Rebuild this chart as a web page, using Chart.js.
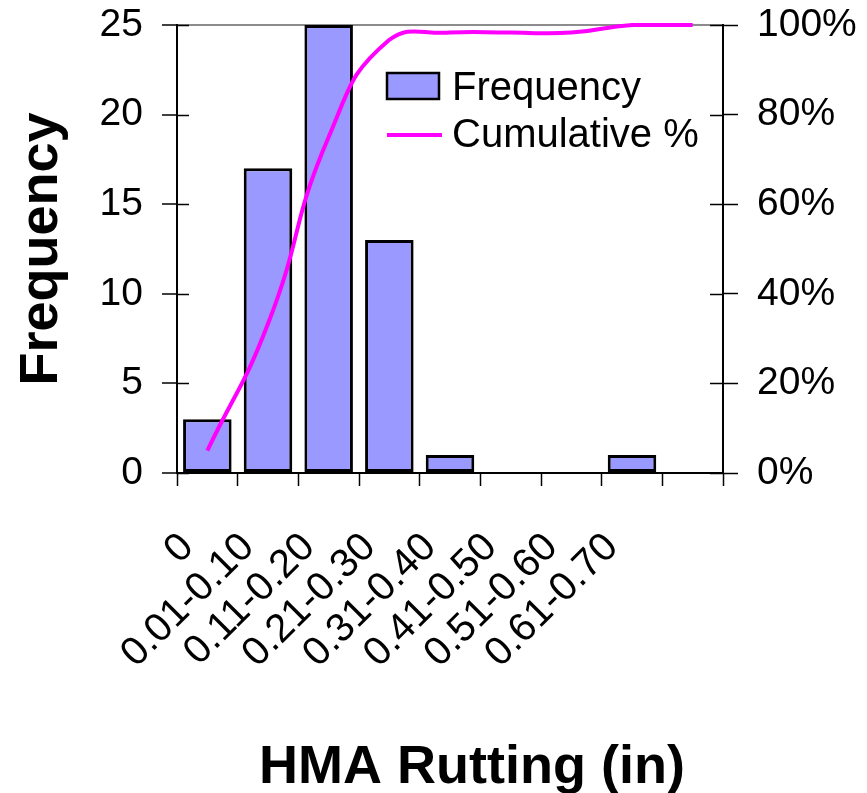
<!DOCTYPE html>
<html>
<head>
<meta charset="utf-8">
<title>HMA Rutting histogram</title>
<script src="https://cdn.jsdelivr.net/npm/chart.js@4.4.1/dist/chart.umd.min.js"></script>
<style>
  html, body { margin: 0; padding: 0; background: #fff; }
  #wrap { width: 867px; height: 793px; }
</style>
</head>
<body>
<div id="wrap"><canvas id="histChart" width="867" height="793"></canvas></div>
<script>
// rut depth bins (last bin has no label)
const binLabels = ['0', '0.01-0.10', '0.11-0.20', '0.21-0.30', '0.31-0.40', '0.41-0.50', '0.51-0.60', '0.61-0.70', ''];
const frequency = [3, 17, 25, 13, 1, 0, 0, 1, 0];
const cumulativePct = [5, 33.3, 75, 96.7, 98.3, 98.3, 98.3, 100, 100];
const freqRange = [0, 25];
const pctRange = [0, 100];
const xCaption = 'HMA Rutting (in)';

const FONT = "'Liberation Sans', Arial, Helvetica, sans-serif";
Chart.defaults.font.family = FONT;
Chart.defaults.color = '#000';

// fixed axis sizes; drop the extra label padding so the plot box stays put
function fixSize(w, h) {
    return s => {
        if (w) s.width = w;
        if (h) s.height = h;
        s.paddingTop = 0;
        s.paddingBottom = 0;
        s.paddingLeft = 0;
        s.paddingRight = 0;
    };
}

// Excel-style ticks that cross the value axes
const crossTicks = {
    id: 'crossTicks',
    afterDatasetsDraw(chart) {
        const ctx = chart.ctx;
        ctx.save();
        ctx.strokeStyle = '#000';
        ctx.lineWidth = 1.5;
        const left = chart.scales.y, right = chart.scales.y1;
        left.ticks.forEach(t => {
            const py = Math.round(left.getPixelForValue(t.value)) + 0.5;
            ctx.beginPath();
            ctx.moveTo(left.right, py);
            ctx.lineTo(left.right + 12, py);
            ctx.stroke();
        });
        right.ticks.forEach(t => {
            const py = Math.round(right.getPixelForValue(t.value)) + 0.5;
            ctx.beginPath();
            ctx.moveTo(right.left, py);
            ctx.lineTo(right.left - 13, py);
            ctx.stroke();
        });
        ctx.restore();
    }
};

// legend inside the plot, plus the category axis caption
const insideLegend = {
    id: 'insideLegend',
    afterDraw(chart) {
        const ctx = chart.ctx;
        const area = chart.chartArea;
        const x0 = area.left + 210;
        const y0 = area.top + 48;
        const bar = chart.data.datasets[1];
        const line = chart.data.datasets[0];
        ctx.save();
        ctx.fillStyle = bar.backgroundColor;
        ctx.fillRect(x0, y0, 52, 26);
        ctx.strokeStyle = bar.borderColor;
        ctx.lineWidth = 2.5;
        ctx.strokeRect(x0, y0, 52, 26);
        ctx.strokeStyle = line.borderColor;
        ctx.lineWidth = 4;
        ctx.beginPath();
        ctx.moveTo(x0, y0 + 62);
        ctx.lineTo(x0 + 55, y0 + 62);
        ctx.stroke();
        ctx.fillStyle = '#000';
        ctx.font = '40px ' + FONT;
        ctx.textBaseline = 'middle';
        ctx.textAlign = 'left';
        ctx.fillText(bar.label, x0 + 65, y0 + 16);
        ctx.fillText(line.label, x0 + 65, y0 + 63);

        ctx.font = 'bold 54px ' + FONT;
        ctx.textAlign = 'center';
        ctx.fillText(xCaption, (area.left + area.right) / 2 + 22, chart.height - 25);
        ctx.restore();
    }
};

new Chart(document.getElementById('histChart'), {
    data: {
        labels: binLabels,
        datasets: [
            {
                type: 'line',
                label: 'Cumulative %',
                data: cumulativePct,
                yAxisID: 'y1',
                borderColor: '#FF00FF',
                borderWidth: 4,
                pointRadius: 0,
                tension: 0.5,
                fill: false,
                clip: false,
                order: 0
            },
            {
                type: 'bar',
                label: 'Frequency',
                data: frequency,
                yAxisID: 'y',
                backgroundColor: '#9999FF',
                borderColor: '#000',
                borderWidth: 3,
                borderSkipped: false,
                barPercentage: 0.8,
                categoryPercentage: 1,
                order: 1
            }
        ]
    },
    options: {
        responsive: false,
        animation: false,
        layout: { padding: { top: 25, left: 0, right: 0, bottom: 0 } },
        plugins: {
            legend: { display: false },
            tooltip: { enabled: false }
        },
        scales: {
            x: {
                afterFit: fixSize(0, 320),
                offset: true,
                grid: {
                    offset: true,
                    drawOnChartArea: false,
                    tickLength: 13,
                    tickColor: '#000',
                    tickWidth: 1.5
                },
                border: { color: '#000', width: 2 },
                ticks: {
                    autoSkip: false,
                    maxRotation: 45,
                    minRotation: 45,
                    padding: 38,
                    labelOffset: -20,
                    font: { size: 40 }
                }
            },
            y: {
                position: 'left',
                min: freqRange[0],
                max: freqRange[1],
                afterFit: fixSize(177, 0),
                ticks: { stepSize: 5, padding: 19, font: { size: 39 } },
                grid: {
                    color: c => (c.tick && c.tick.value === freqRange[1]) ? '#8c8c8c' : 'rgba(0,0,0,0)',
                    lineWidth: 2,
                    tickLength: 15,
                    tickColor: '#000',
                    tickWidth: 1.5
                },
                border: { color: '#000', width: 2 },
                title: {
                    display: true,
                    text: 'Frequency',
                    font: { size: 54, weight: 'bold', lineHeight: 1 },
                    padding: { top: 15, bottom: 0 }
                }
            },
            y1: {
                position: 'right',
                min: pctRange[0],
                max: pctRange[1],
                afterFit: fixSize(144, 0),
                ticks: {
                    stepSize: 20,
                    padding: 19,
                    font: { size: 39 },
                    callback: v => v + '%'
                },
                grid: {
                    drawOnChartArea: false,
                    tickLength: 15,
                    tickColor: '#000',
                    tickWidth: 1.5
                },
                border: { color: '#000', width: 2 }
            }
        }
    },
    plugins: [crossTicks, insideLegend]
});
</script>
</body>
</html>
